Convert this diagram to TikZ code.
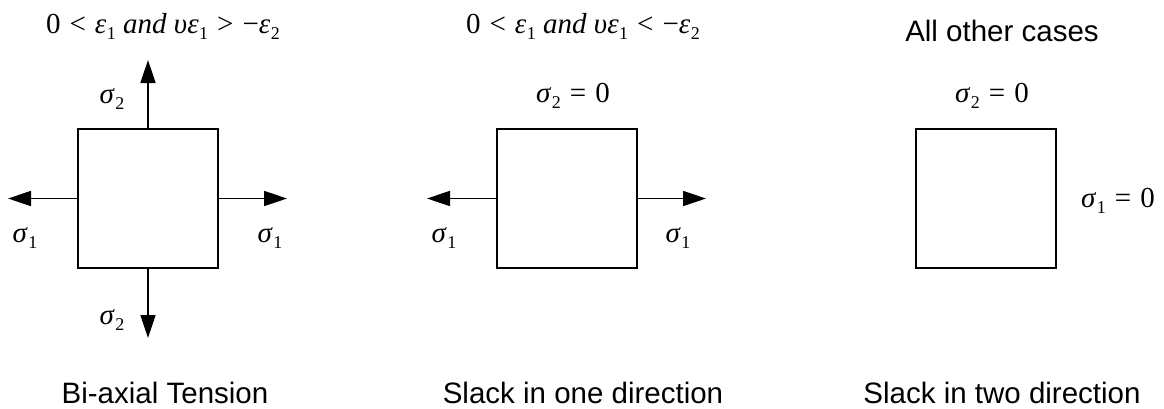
\documentclass[tikz,border=0pt]{standalone}
\usepackage{fontspec}
\setmainfont{Liberation Serif}
\newfontfamily\sansf{Liberation Sans}
\usetikzlibrary{arrows.meta}
\newcommand\gk[1]{\textit{#1}}
\newcommand\sbs[1]{\kern0.5pt\lower6pt\hbox{\fontsize{18}{18}\selectfont #1}}
\newcommand\rel[1]{\kern9pt#1\kern9pt}
\begin{document}
\begin{tikzpicture}[x=1pt,y=-1pt,
  lbl/.style={inner sep=0pt, anchor=base, font=\fontsize{29}{29}\selectfont},
  captxt/.style={inner sep=0pt, anchor=base, font=\sansf\fontsize{29.5}{29.5}\selectfont},
  elem/.style={draw, line width=1.6pt, minimum width=140pt, minimum height=139pt, inner sep=0pt},
  force/.style={line width=1.6pt, -{Triangle[width=15pt,length=23pt]}}]
\useasboundingbox (0,0) rectangle (1164,408);
% panel 1
\node[elem] (b1) at (148,198.5) {};
\coordinate (b1t) at (148,60);
\coordinate (b1b) at (148,338);
\coordinate (b1l) at (8,198.5);
\coordinate (b1r) at (287,198.5);
\draw[force] (b1.north) -- (b1t);
\draw[force] (b1.south) -- (b1b);
\draw[force] (b1.west) -- (b1l);
\draw[force] (b1.east) -- (b1r);
\node[lbl] (t1) at (163,33) {0\rel{<}\gk{ε}\sbs{1} \gk{and} \gk{υε}\sbs{1}\rel{>}−\gk{ε}\sbs{2}};
\node[lbl] (s1t) at (112,103) {\gk{σ}\sbs{2}};
\node[lbl] (s1b) at (112,324) {\gk{σ}\sbs{2}};
\node[lbl] (s1l) at (25,242) {\gk{σ}\sbs{1}};
\node[lbl] (s1r) at (270,242) {\gk{σ}\sbs{1}};
\node[captxt] (c1) at (165,403) {Bi-axial Tension};
% panel 2
\node[elem] (b2) at (567,198.5) {};
\coordinate (b2l) at (427,198.5);
\coordinate (b2r) at (706,198.5);
\draw[force] (b2.west) -- (b2l);
\draw[force] (b2.east) -- (b2r);
\node[lbl] (t2) at (583,33) {0\rel{<}\gk{ε}\sbs{1} \gk{and} \gk{υε}\sbs{1}\rel{<}−\gk{ε}\sbs{2}};
\node[lbl] (s2t) at (573,102) {\gk{σ}\sbs{2}\rel{=}0};
\node[lbl] (s2l) at (444,242) {\gk{σ}\sbs{1}};
\node[lbl] (s2r) at (678,242) {\gk{σ}\sbs{1}};
\node[captxt] (c2) at (583,403) {Slack in one direction};
% panel 3
\node[elem] (b3) at (986,198.5) {};
\node[captxt] (t3) at (1002,41) {All other cases};
\node[lbl] (s3t) at (992,102) {\gk{σ}\sbs{2}\rel{=}0};
\node[lbl] (s3r) at (1118,207) {\gk{σ}\sbs{1}\rel{=}0};
\node[captxt] (c3) at (1002,403) {Slack in two direction};
\end{tikzpicture}
\end{document}
